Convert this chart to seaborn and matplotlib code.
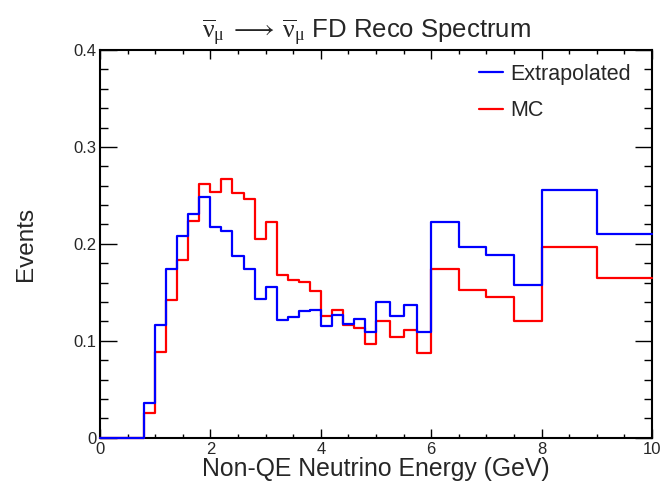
import numpy as np
import pandas as pd
import matplotlib
matplotlib.use("Agg")
import matplotlib.pyplot as plt
import seaborn as sns
from matplotlib.ticker import MultipleLocator

# ---- data ----
bin_edges = [0.0, 0.8, 1.0, 1.2, 1.4, 1.6, 1.8, 2.0, 2.2, 2.4, 2.6, 2.8, 3.0,
             3.2, 3.4, 3.6, 3.8, 4.0, 4.2, 4.4, 4.6, 4.8, 5.0, 5.25, 5.5, 5.75,
             6.0, 6.5, 7.0, 7.5, 8.0, 9.0, 10.0]

extrapolated = [0.0, 0.036, 0.116, 0.174, 0.208, 0.231, 0.248, 0.217, 0.213,
                0.187, 0.174, 0.143, 0.155, 0.121, 0.125, 0.131, 0.132, 0.115,
                0.127, 0.117, 0.122, 0.109, 0.140, 0.126, 0.137, 0.109,
                0.223, 0.197, 0.188, 0.158, 0.256, 0.210]

mc = [0.0, 0.025, 0.088, 0.142, 0.183, 0.224, 0.262, 0.253, 0.267, 0.252,
      0.246, 0.205, 0.223, 0.168, 0.163, 0.161, 0.151, 0.126, 0.132, 0.116,
      0.113, 0.097, 0.120, 0.104, 0.111, 0.087,
      0.174, 0.152, 0.145, 0.120, 0.197, 0.165]

series_labels = ["Extrapolated", "MC"]
series_colors = ["#0000ff", "#ff0000"]

title = (r"$\overline{\mathrm{\nu}}_{\mathrm{\mu}}\;\longrightarrow\;"
         r"\overline{\mathrm{\nu}}_{\mathrm{\mu}}$ FD Reco Spectrum")
xlabel = "Non-QE Neutrino Energy (GeV)"
ylabel = "Events"

# ---- style ----
sns.set_style("ticks")
plt.rcParams["font.family"] = ["Liberation Sans", "DejaVu Sans"]
plt.rcParams["mathtext.fontset"] = "custom"
plt.rcParams["mathtext.rm"] = "Liberation Serif"
plt.rcParams["mathtext.it"] = "Liberation Serif:italic"
plt.rcParams["mathtext.default"] = "rm"
plt.rcParams["mathtext.fallback"] = "stix"
plt.rcParams["axes.linewidth"] = 1.5

fig = plt.figure(figsize=(6.65, 4.92), dpi=100)
ax = fig.add_axes([0.15038, 0.11037, 0.83008, 0.78801])

edges = list(bin_edges)
centers = [0.5 * (a + b) for a, b in zip(edges[:-1], edges[1:])]
df_mc = pd.DataFrame({"energy": centers, "w": mc})
df_ex = pd.DataFrame({"energy": centers, "w": extrapolated})

sns.histplot(data=df_mc, x="energy", weights="w", bins=edges, element="step",
             fill=False, color=series_colors[1], linewidth=1.6, ax=ax,
             label=series_labels[1], zorder=3, clip_on=False)
sns.histplot(data=df_ex, x="energy", weights="w", bins=edges, element="step",
             fill=False, color=series_colors[0], linewidth=1.6, ax=ax,
             label=series_labels[0], zorder=3.1, clip_on=False)

ax.set_xlim(0, 10)
ax.set_ylim(0, 0.4)
ax.xaxis.set_major_locator(MultipleLocator(2))
ax.xaxis.set_minor_locator(MultipleLocator(0.5))
ax.yaxis.set_major_locator(MultipleLocator(0.1))
ax.yaxis.set_minor_locator(MultipleLocator(0.02))
ax.xaxis.set_major_formatter(plt.FuncFormatter(lambda v, p: f"{v:g}"))
ax.yaxis.set_major_formatter(plt.FuncFormatter(lambda v, p: f"{v:g}"))

ax.tick_params(which="both", direction="in", top=True, right=True,
               labelsize=12, width=1.0, color="black")
ax.tick_params(axis="x", which="major", length=6.5, pad=3)
ax.tick_params(axis="x", which="minor", length=3.2)
ax.tick_params(axis="y", which="major", length=12, pad=2.5)
ax.tick_params(axis="y", which="minor", length=6)
for s in ax.spines.values():
    s.set_visible(True)
    s.set_color("black")

ax.set_xlabel(xlabel, fontsize=17.8, labelpad=0)
ax.set_ylabel(ylabel, fontsize=17.5, labelpad=26)
ax.set_title(title, fontsize=18.5, x=0.482, pad=8)

h, l = ax.get_legend_handles_labels()
order = [l.index(series_labels[0]), l.index(series_labels[1])]
ax.legend([h[i] for i in order], [l[i] for i in order], loc="upper left",
          bbox_to_anchor=(0.687, 0.965), frameon=False, fontsize=15.5,
          handlelength=1.12, handletextpad=0.3, borderpad=0, borderaxespad=0,
          labelspacing=0.73)

fig.savefig("out.png", dpi=100)
